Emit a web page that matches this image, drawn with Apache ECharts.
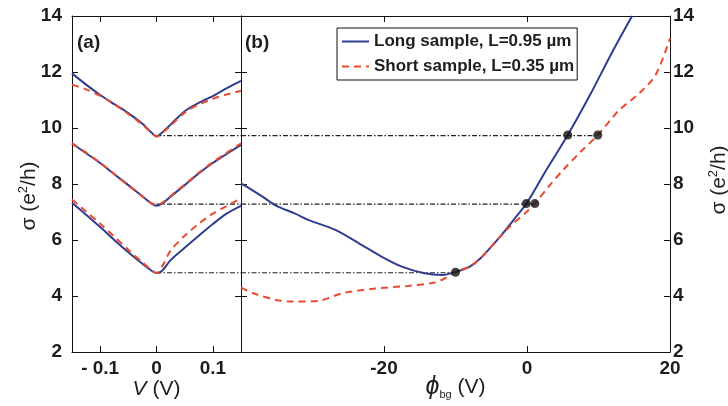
<!DOCTYPE html>
<html>
<head>
<meta charset="utf-8">
<script src="https://cdn.jsdelivr.net/npm/echarts@6/dist/echarts.min.js"></script>
<style>html,body{margin:0;padding:0;background:#fff;}#c{width:728px;height:406px;}</style>
</head>
<body>
<div id="c"></div>
<script>
// ---- Panel (a): sigma vs bias V ----
const vA = [-0.15, -0.125, -0.1, -0.075, -0.05, -0.025, -0.01, 0, 0.01, 0.025, 0.05, 0.075, 0.1, 0.125, 0.15];
const aTopLong   = [11.95, 11.55, 11.18, 10.85, 10.53, 10.15, 9.86, 9.70, 9.84, 10.12, 10.60, 10.90, 11.14, 11.42, 11.68];
const aTopShort  = [11.55, 11.38, 11.15, 10.85, 10.50, 10.12, 9.85, 9.70, 9.82, 10.08, 10.55, 10.84, 11.04, 11.20, 11.33];
const aMidLong   = [9.45, 9.10, 8.75, 8.35, 7.96, 7.56, 7.32, 7.22, 7.30, 7.55, 7.96, 8.38, 8.75, 9.08, 9.40];
const aMidShort  = [9.45, 9.12, 8.76, 8.36, 7.95, 7.55, 7.33, 7.25, 7.33, 7.57, 7.98, 8.40, 8.78, 9.12, 9.45];
const aBotLong   = [7.33, 6.90, 6.46, 6.00, 5.56, 5.15, 4.92, 4.82, 4.90, 5.28, 5.72, 6.15, 6.57, 6.95, 7.22];
const aBotShort  = [7.45, 7.02, 6.58, 6.12, 5.65, 5.20, 4.95, 4.82, 5.05, 5.62, 6.15, 6.58, 6.94, 7.22, 7.48];

// ---- Panel (b): sigma vs back-gate phi_bg ----
const phiLong = [-40, -38.5, -37, -35.1, -32.5, -30.5, -26.8, -23.5, -20.3, -17.5, -14.3, -11.9, -10, -8, -6.5, -3.75, -1.9, 0, 2.7, 5.7, 8.75, 12, 14.7];
const sigLong = [8.02, 7.79, 7.55, 7.23, 6.95, 6.71, 6.36, 5.88, 5.40, 5.05, 4.81, 4.75, 4.86, 5.05, 5.35, 6.12, 6.71, 7.33, 8.50, 9.75, 11.15, 12.75, 14.0];
const phiShort = [-40, -38.3, -35.1, -32.8, -29.1, -25.8, -21.2, -16.6, -12.9, -11.5, -10, -8, -6.5, -4, -2.4, 0, 1.1, 3, 5.05, 7.5, 9.9, 12.9, 15.7, 18, 20];
const sigShort = [4.30, 4.10, 3.86, 3.80, 3.83, 4.10, 4.27, 4.36, 4.48, 4.63, 4.86, 5.05, 5.35, 6.05, 6.48, 7.02, 7.30, 7.90, 8.50, 9.15, 9.75, 10.64, 11.24, 11.90, 13.2];

// matching-point levels and dots
const minLevels = [9.73, 7.28, 4.83];
const dotPhi = [-10, -0.1, 1.1, 5.7, 9.9];
const dotSig = [4.85, 7.30, 7.30, 9.75, 9.75];
const refEndPhi = [9.9, 1.1, -10];

const vTicks = [-0.1, 0, 0.1];

const LONG = 'Long sample, L=0.95 µm';
const SHORT = 'Short sample, L=0.35 µm';
const blue = '#2f3d8f';
const red = '#ec4a2f';
const INK = '#1e1e1e';
const FONT = 'Liberation Sans, Arial, sans-serif';

function pairs(xs, ys){ return xs.map((x,i)=>[x, ys[i]]); }

const axisLine = {show:true, onZero:false, lineStyle:{color:'#111', width:1}};
const tickIn = {show:true, inside:true, length:6, lineStyle:{color:'#111', width:1}};
const lbl = {color:INK, fontSize:19, fontWeight:'bold', fontFamily:FONT};
const nameStyle = {fontSize:21, color:INK, fontFamily:FONT};

const series = [];
function line(name, data, isShort, xi, yi){
  series.push({
    name: name, type:'line', xAxisIndex: xi, yAxisIndex: yi,
    data: data, showSymbol:false, symbol:'none', smooth:0.3, silent:true, z: isShort?4:3,
    lineStyle: isShort ? {color:red, width:2, type:[7,5]} : {color:blue, width:2},
    itemStyle: {color: isShort?red:blue}
  });
}
// panel a
line(LONG, pairs(vA, aTopLong), false, 0, 0);
line(SHORT, pairs(vA, aTopShort), true, 0, 0);
line(LONG, pairs(vA, aMidLong), false, 0, 0);
line(SHORT, pairs(vA, aMidShort), true, 0, 0);
line(LONG, pairs(vA, aBotLong), false, 0, 0);
line(SHORT, pairs(vA, aBotShort), true, 0, 0);
// panel b
line(LONG, pairs(phiLong, sigLong), false, 2, 2);
line(SHORT, pairs(phiShort, sigShort), true, 2, 2);

// reference dash-dot lines
const refStyle = {color:'#222', width:1.2, type:[5,2,1.5,2]};
minLevels.forEach((lv, i) => {
  series.push({name:'refA'+i, type:'line', xAxisIndex:0, yAxisIndex:0, data:[[0, lv],[0.15, lv]], showSymbol:false, symbol:'none', silent:true, lineStyle:refStyle, z:2});
  series.push({name:'refB'+i, type:'line', xAxisIndex:2, yAxisIndex:2, data:[[-40, lv],[refEndPhi[i], lv]], showSymbol:false, symbol:'none', silent:true, lineStyle:refStyle, z:2});
});
series.push({name:'dots', type:'scatter', xAxisIndex:2, yAxisIndex:2, data:pairs(dotPhi, dotSig), symbolSize:9, itemStyle:{color:'#111'}, z:6, silent:true});

const chart = echarts.init(document.getElementById('c'), null, {renderer:'canvas'});
chart.setOption({
  backgroundColor:'#fff',
  animation:false,
  textStyle:{fontFamily:FONT},
  grid:[
    {left:72, top:16, width:169, height:336, show:false, outerBoundsMode:'none', containLabel:false},
    {left:241, top:16, width:429, height:336, show:false, outerBoundsMode:'none', containLabel:false}
  ],
  legend:{
    data:[LONG, SHORT], orient:'vertical', left:337, top:28,
    borderColor:'#111', borderWidth:1, padding:[5,3,5,4],
    itemWidth:27, itemHeight:12, itemGap:8,
    itemStyle:{opacity:0},
    textStyle:{fontSize:17, fontWeight:'bold', color:INK, fontFamily:FONT},
    selectedMode:false
  },
  xAxis:[
    {gridIndex:0, type:'value', min:-0.15, max:0.15, position:'bottom',
     axisLine:axisLine, axisTick:Object.assign({customValues:vTicks}, tickIn),
     axisLabel:Object.assign({customValues:vTicks, margin:7, formatter:v=> v<0 ? '- '+Math.abs(v).toFixed(1) : (v===0?'0':v.toFixed(1))}, lbl),
     splitLine:{show:false},
     name:'{i|V} (V)', nameLocation:'middle', nameGap:27, nameMoveOverlap:false,
     nameTextStyle:Object.assign({rich:{i:{fontStyle:'italic', fontSize:21, color:INK, fontFamily:FONT}}}, nameStyle)},
    {gridIndex:0, type:'value', min:-0.15, max:0.15, position:'top',
     axisLine:axisLine, axisTick:Object.assign({customValues:vTicks}, tickIn), axisLabel:{show:false}, splitLine:{show:false}},
    {gridIndex:1, type:'value', min:-40, max:20, interval:20, position:'bottom',
     axisLine:axisLine, axisTick:tickIn,
     axisLabel:Object.assign({margin:7, showMinLabel:false, formatter:v=> v===-40?'':String(v)}, lbl),
     splitLine:{show:false},
     name:'{i|ϕ}{s|bg} (V)', nameLocation:'middle', nameGap:23, nameMoveOverlap:false,
     nameTextStyle:Object.assign({rich:{
       i:{fontStyle:'italic', fontSize:25, color:INK, fontFamily:FONT},
       s:{fontSize:11, color:INK, fontFamily:FONT, padding:[14,0,0,0]}}}, nameStyle)},
    {gridIndex:1, type:'value', min:-40, max:20, interval:20, position:'top',
     axisLine:axisLine, axisTick:tickIn, axisLabel:{show:false}, splitLine:{show:false}}
  ],
  yAxis:[
    {gridIndex:0, type:'value', min:2, max:14, interval:2, position:'left',
     axisLine:axisLine, axisTick:tickIn, axisLabel:Object.assign({margin:10}, lbl), splitLine:{show:false},
     name:'σ (e{sup|2}/h)', nameLocation:'middle', nameGap:31, nameRotate:90, nameMoveOverlap:false,
     nameTextStyle:Object.assign({padding:[0,24,0,0], rich:{sup:{fontSize:13, color:INK, fontFamily:FONT, padding:[0,0,11,0]}}}, nameStyle)},
    {gridIndex:0, type:'value', min:2, max:14, interval:2, position:'right',
     axisLine:axisLine, axisTick:tickIn, axisLabel:{show:false}, splitLine:{show:false}},
    {gridIndex:1, type:'value', min:2, max:14, interval:2, position:'left',
     axisLine:axisLine, axisTick:tickIn, axisLabel:{show:false}, splitLine:{show:false}},
    {gridIndex:1, type:'value', min:2, max:14, interval:2, position:'right',
     axisLine:axisLine, axisTick:tickIn, axisLabel:Object.assign({margin:3}, lbl), splitLine:{show:false},
     name:'σ (e{sup|2}/h)', nameLocation:'middle', nameGap:37, nameRotate:90, nameMoveOverlap:false,
     nameTextStyle:Object.assign({padding:[0,0,0,8], rich:{sup:{fontSize:13, color:INK, fontFamily:FONT, padding:[0,0,11,0]}}}, nameStyle)}
  ],
  graphic:[
    {type:'text', left:77, top:33, style:{text:'(a)', fontSize:19, fontWeight:'bold', fill:INK, fontFamily:FONT}},
    {type:'text', left:245, top:33, style:{text:'(b)', fontSize:19, fontWeight:'bold', fill:INK, fontFamily:FONT}}
  ],
  series: series
});
</script>
</body>
</html>
